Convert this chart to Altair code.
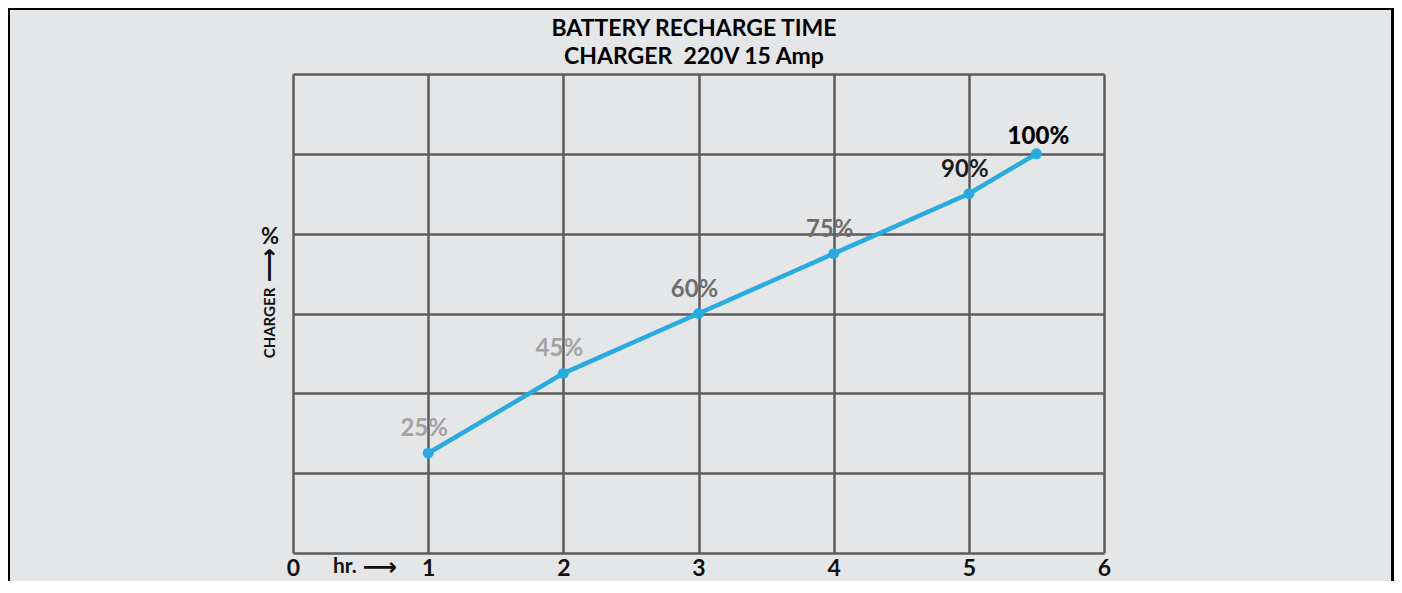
import altair as alt
import pandas as pd

# ---- data ----
hours = [1, 2, 3, 4, 5, 5.5]
charge = [25, 45, 60, 75, 90, 100]
labels = ["25%", "45%", "60%", "75%", "90%", "100%"]
x_ticks = [0, 1, 2, 3, 4, 5, 6]
y_grid = [0, 20, 40, 60, 80, 100, 120]
title_lines = ["BATTERY RECHARGE TIME", "CHARGER\u00a0 220V 15 Amp"]
y_title = "CHARGER"
y_unit = "%"
x_title = "hr."

df = pd.DataFrame({"hr": hours, "pct": charge, "label": labels})
one = pd.DataFrame({"a": [0]})

W, H = 811, 479
GRID = "#5c5c5c"
BLUE = "#29abe2"
FONT = "Lato"

x_enc = alt.X(
    "hr:Q",
    scale=alt.Scale(domain=[0, 6], nice=False, zero=False),
    axis=alt.Axis(
        values=x_ticks, format="d", grid=True, ticks=False, domain=False, title=None,
        labelFont=FONT, labelFontSize=23, labelFontWeight="bold",
        labelColor="#111111", labelPadding=4, labelFlush=False,
        labelOverlap=False, gridColor=GRID, gridWidth=2.5, gridOpacity=1,
    ),
)
y_enc = alt.Y(
    "pct:Q",
    scale=alt.Scale(domain=[0, 120], nice=False),
    axis=alt.Axis(
        values=y_grid, grid=True, ticks=False, domain=False, labels=False,
        title=None, gridColor=GRID, gridWidth=2.5, gridOpacity=1,
    ),
)

base = alt.Chart(df)

line = base.mark_line(color=BLUE, strokeWidth=4.5).encode(x=x_enc, y=y_enc)
pts = base.mark_circle(color=BLUE, size=120, opacity=1).encode(x="hr:Q", y="pct:Q")

lab_color = alt.Color(
    "pct:Q",
    scale=alt.Scale(type="threshold", domain=[50, 80, 95],
                    range=["#a2a2a2", "#6e6e6e", "#1c1c1c", "#000000"]),
    legend=None,
)
txt = base.transform_filter("datum.pct < 100").mark_text(
    font=FONT, fontSize=24, fontWeight="bold", dy=-24, dx=-4
).encode(x="hr:Q", y="pct:Q", text="label:N", color=lab_color)
txt_top = base.transform_filter("datum.pct >= 100").mark_text(
    font=FONT, fontSize=24, fontWeight=900, dy=-17, dx=2, color="#000000"
).encode(x="hr:Q", y="pct:Q", text="label:N")

ann = alt.Chart(one)
title1 = ann.mark_text(font=FONT, fontSize=23, fontWeight="bold",
                       color="#000000", text=title_lines[0]).encode(
    x=alt.value(401), y=alt.value(-45))
title2 = ann.mark_text(font=FONT, fontSize=23, fontWeight="bold",
                       color="#000000", text=title_lines[1]).encode(
    x=alt.value(401), y=alt.value(-17))
charger = ann.mark_text(font=FONT, fontSize=15, fontWeight="bold", angle=270,
                        color="#111111", text=y_title).encode(
    x=alt.value(-23), y=alt.value(249))
up_arrow = ann.mark_text(font="DejaVu Sans", fontSize=24, fontWeight="bold",
                         angle=270, color="#111111", text="\u27f6").encode(
    x=alt.value(-23), y=alt.value(191))
pct_sign = ann.mark_text(font=FONT, fontSize=22, fontWeight="bold",
                         color="#111111", text=y_unit).encode(
    x=alt.value(-23), y=alt.value(163))
hr_text = ann.mark_text(font=FONT, fontSize=21, fontWeight="bold", align="left",
                        color="#111111", text=x_title).encode(
    x=alt.value(40), y=alt.value(493))
hr_arrow = ann.mark_text(font="DejaVu Sans", fontSize=24, fontWeight="bold",
                         color="#111111", text="\u27f6").encode(
    x=alt.value(87), y=alt.value(494))
frame = ann.mark_rect(fill="#e5e6e8", fillOpacity=0, stroke="#000000",
                      strokeWidth=3).encode(
    x=alt.value(-284.5), x2=alt.value(1099.5),
    y=alt.value(-65.5), y2=alt.value(H + 80))

chart = alt.layer(
    frame, line, pts, txt, txt_top, title1, title2,
    charger, up_arrow, pct_sign, hr_text, hr_arrow
).properties(
    width=W, height=H,
    autosize=alt.AutoSizeParams(type="none"),
    padding={"left": 285, "top": 66, "right": 290, "bottom": 28},
    background="#e5e6e8",
).configure_view(stroke=None)

chart.save("out.html", embed_options={"renderer": "svg", "actions": False})
